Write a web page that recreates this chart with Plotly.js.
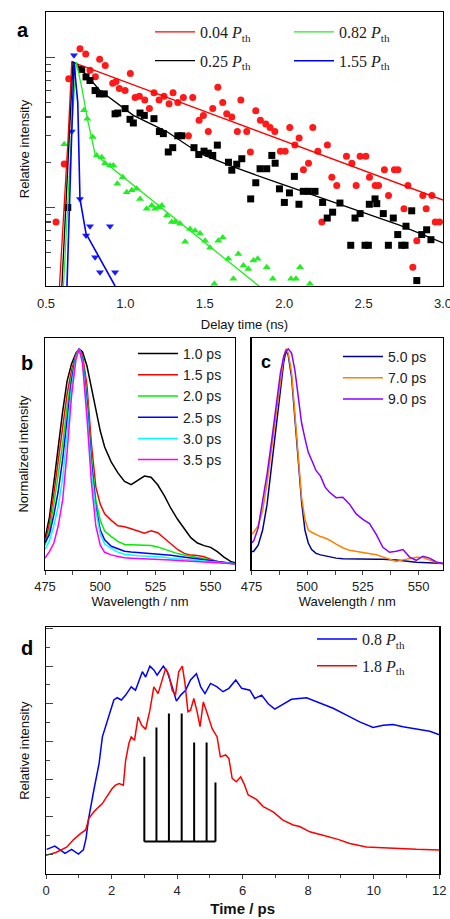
<!DOCTYPE html>
<html><head><meta charset="utf-8">
<script src="https://cdn.plot.ly/plotly-3.0.1.min.js"></script>
<style>html,body{margin:0;padding:0;background:#fff}#g{width:450px;height:919px}</style>
</head><body><div id="g"></div>
<script>
// ---------- Panel a : decay (log) ----------
const aRedX=[0.563,0.615,0.643,0.714,0.750,0.777,0.811,0.838,0.873,0.920,0.941,0.962,0.998,1.031,1.061,1.088,1.122,1.151,1.180,1.212,1.243,1.275,1.300,1.330,1.365,1.397,1.424,1.464,1.491,1.522,1.550,1.582,1.613,1.638,1.670,1.705,1.727,1.764,1.787,1.821,1.850,1.884,1.911,1.941,1.976,2.006,2.035,2.067,2.094,2.121,2.153,2.180,2.212,2.237,2.272,2.300,2.331,2.392,2.426,2.453,2.478,2.514,2.537,2.573,2.594,2.631,2.657,2.694,2.716,2.754,2.779,2.810,2.835,2.873,2.894,2.930,2.951,2.978];
const aRedY=[0.080,0.195,0.72,1.14,1.05,0.82,0.74,0.97,0.88,0.67,0.69,0.62,0.60,0.78,0.54,0.55,0.52,0.455,0.58,0.52,0.55,0.49,0.58,0.50,0.54,0.30,0.54,0.38,0.41,0.32,0.455,0.63,0.50,0.42,0.40,0.32,0.52,0.32,0.234,0.44,0.38,0.36,0.34,0.32,0.237,0.237,0.34,0.26,0.29,0.178,0.197,0.34,0.237,0.080,0.26,0.159,0.140,0.219,0.197,0.140,0.219,0.219,0.159,0.140,0.140,0.178,0.120,0.178,0.178,0.098,0.140,0.040,0.060,0.120,0.098,0.120,0.080,0.080];
const aBlkX=[0.637,0.725,0.752,0.777,0.809,0.836,0.867,0.935,0.952,0.998,1.029,1.050,1.092,1.119,1.180,1.214,1.239,1.270,1.298,1.330,1.355,1.432,1.462,1.495,1.522,1.550,1.579,1.649,1.670,1.701,1.733,1.789,1.821,1.848,1.890,1.922,1.943,1.970,2.001,2.033,2.064,2.093,2.120,2.152,2.194,2.242,2.271,2.305,2.351,2.419,2.446,2.478,2.509,2.530,2.536,2.572,2.583,2.624,2.656,2.687,2.715,2.740,2.761,2.767,2.803,2.835,2.866,2.897,2.924];
const aBlkY=[0.10,0.83,0.74,0.70,0.60,0.57,0.57,0.42,0.425,0.455,0.386,0.365,0.425,0.41,0.39,0.32,0.31,0.234,0.25,0.30,0.30,0.25,0.225,0.237,0.23,0.222,0.26,0.20,0.177,0.194,0.211,0.114,0.146,0.181,0.181,0.222,0.197,0.133,0.108,0.125,0.161,0.105,0.128,0.128,0.128,0.108,0.085,0.093,0.107,0.056,0.085,0.091,0.056,0.056,0.105,0.114,0.106,0.091,0.056,0.085,0.066,0.056,0.056,0.075,0.095,0.0326,0.066,0.071,0.061];
const aGrnX=[0.615,0.739,0.760,0.794,0.819,0.851,0.872,0.903,0.924,0.949,0.983,1.008,1.040,1.071,1.092,1.134,1.166,1.187,1.208,1.229,1.261,1.292,1.313,1.344,1.376,1.407,1.439,1.470,1.502,1.533,1.560,1.585,1.613,1.648,1.680,1.711,1.743,1.774,1.806,1.833,1.890,1.928,2.043,2.074,2.100,2.162];
const aGrnY=[0.263,0.443,0.39,0.294,0.222,0.216,0.197,0.19,0.19,0.144,0.159,0.126,0.13,0.133,0.114,0.098,0.103,0.098,0.10,0.103,0.0885,0.080,0.080,0.078,0.059,0.072,0.070,0.067,0.060,0.054,0.031,0.060,0.063,0.0455,0.0335,0.049,0.041,0.039,0.0443,0.0455,0.040,0.0335,0.0335,0.0335,0.040,0.031];
const aBluX=[0.662,0.676,0.714,0.752,0.777,0.809,0.840,0.903,0.935];
const aBluY=[0.32,1.03,0.114,0.065,0.075,0.0467,0.037,0.075,0.037];
const fitRedX=[0.585,0.64,0.662,3.0], fitRedY=[0.03,0.3,0.93,0.112];
const fitBlkX=[0.60,0.65,0.67,0.693,0.84,1.05,1.26,1.47,1.68,1.89,2.10,2.31,2.52,2.73,3.0];
const fitBlkY=[0.03,0.3,0.93,0.90,0.60,0.41,0.32,0.228,0.186,0.155,0.13,0.108,0.091,0.076,0.058];
const fitGrnX=[0.61,0.66,0.69,0.725,0.76,0.81,1.858], fitGrnY=[0.03,0.3,0.93,0.63,0.39,0.225,0.029];
const fitBluX=[0.632,0.66,0.676,0.70,0.708,0.714,0.752,0.935], fitBluY=[0.03,0.3,0.93,0.5,0.24,0.114,0.067,0.03];
const aLabels=['0.04 <i>P</i><sub>th</sub>','0.25 <i>P</i><sub>th</sub>','0.82 <i>P</i><sub>th</sub>','1.55 <i>P</i><sub>th</sub>'];

// ---------- Panel b : spectra ----------
const wlB=[475,477,479,481,483,485,487,489,490.5,492,494,496,498,500,502,505,508,511,514,517,520,523,526,529,532,535,538,541,544,547,550,553,556,559,561];
const b10=[0.12,0.22,0.38,0.55,0.71,0.85,0.93,0.98,1.0,0.985,0.92,0.82,0.715,0.62,0.545,0.475,0.425,0.385,0.37,0.39,0.41,0.405,0.37,0.32,0.26,0.21,0.17,0.125,0.10,0.088,0.08,0.06,0.035,0.015,0.008];
const b15=[0.10,0.19,0.33,0.48,0.64,0.79,0.90,0.975,1.0,0.97,0.83,0.56,0.36,0.28,0.235,0.205,0.18,0.175,0.166,0.154,0.145,0.157,0.148,0.122,0.094,0.07,0.052,0.044,0.042,0.036,0.025,0.013,0.008,0.005,0.004];
const b20=[0.09,0.16,0.28,0.41,0.56,0.73,0.87,0.97,1.0,0.96,0.78,0.50,0.30,0.205,0.155,0.13,0.108,0.093,0.092,0.091,0.09,0.089,0.082,0.072,0.06,0.051,0.044,0.039,0.034,0.028,0.021,0.014,0.009,0.005,0.004];
const b25=[0.10,0.14,0.23,0.34,0.49,0.67,0.85,0.965,1.0,0.95,0.75,0.47,0.27,0.16,0.115,0.085,0.072,0.062,0.058,0.056,0.054,0.052,0.05,0.047,0.043,0.039,0.035,0.03,0.025,0.02,0.016,0.012,0.008,0.005,0.004];
const b30=[0.07,0.11,0.18,0.27,0.40,0.60,0.82,0.96,1.0,0.94,0.72,0.44,0.25,0.14,0.095,0.075,0.058,0.048,0.043,0.041,0.04,0.039,0.037,0.034,0.03,0.027,0.024,0.021,0.018,0.015,0.012,0.01,0.007,0.005,0.004];
const b35=[0.03,0.06,0.10,0.18,0.30,0.52,0.78,0.95,1.0,0.93,0.68,0.38,0.18,0.09,0.057,0.045,0.038,0.032,0.03,0.029,0.028,0.027,0.025,0.023,0.021,0.019,0.017,0.015,0.013,0.011,0.009,0.007,0.006,0.005,0.004];
const bLabels=['1.0 ps','1.5 ps','2.0 ps','2.5 ps','3.0 ps','3.5 ps'];

// ---------- Panel c : spectra ----------
const wlC=[475,476,478,480,482,484,486,488,489.5,490.5,491.5,493,494.5,496,497.5,499,500.5,502,504,506,508,510,513,516,519,522,525,528,531,534,537,540,543,546,549,552,555,558,561];
const c50=[0.06,0.062,0.09,0.16,0.28,0.46,0.65,0.83,0.94,0.99,0.97,0.87,0.69,0.48,0.29,0.16,0.10,0.07,0.052,0.045,0.04,0.036,0.03,0.027,0.026,0.026,0.026,0.025,0.025,0.025,0.024,0.021,0.018,0.014,0.011,0.01,0.009,0.007,0.005];
const c70=[0.14,0.15,0.18,0.25,0.38,0.54,0.71,0.87,0.965,1.0,0.98,0.89,0.71,0.49,0.31,0.21,0.16,0.15,0.138,0.13,0.123,0.114,0.095,0.078,0.066,0.061,0.057,0.052,0.046,0.036,0.024,0.015,0.022,0.029,0.034,0.033,0.02,0.01,0.005];
const c90=[0.10,0.11,0.17,0.29,0.42,0.57,0.74,0.89,0.965,0.99,1.0,0.98,0.90,0.78,0.656,0.585,0.52,0.485,0.435,0.41,0.36,0.335,0.31,0.312,0.28,0.235,0.21,0.19,0.14,0.08,0.057,0.062,0.07,0.035,0.02,0.039,0.03,0.012,0.005];
const cLabels=['5.0 ps','7.0 ps','9.0 ps'];

// ---------- Panel d : time traces ----------
const dBluT=[0.02,0.27,0.58,0.78,0.99,1.14,1.22,1.30,1.46,1.62,1.72,1.87,2.07,2.17,2.30,2.43,2.60,2.73,2.94,3.04,3.17,3.29,3.39,3.58,3.70,3.85,3.98,4.11,4.26,4.41,4.59,4.72,4.85,5.02,5.22,5.40,5.58,5.79,5.97,6.22,6.37,6.58,6.78,6.98,7.24,7.49,7.95,8.35,8.76,9.17,9.57,9.98,10.29,10.59,10.89,11.30,11.71,11.96,12.0];
const dBluV=[0.135,0.22,0.03,0.135,0.01,0.12,0.42,0.95,1.71,2.42,3.12,3.56,4.10,4.16,4.10,4.23,4.45,4.36,4.85,4.71,5.0,4.9,4.76,5.0,4.85,4.45,4.07,4.23,4.36,4.63,4.80,4.45,4.27,4.54,4.45,4.32,4.41,4.63,4.41,4.36,4.14,4.23,4.0,3.86,4.0,4.12,4.16,4.03,3.88,3.70,3.52,3.37,3.43,3.45,3.39,3.33,3.27,3.19,3.18];
const dRedT=[0,0.3,0.63,0.85,1.06,1.21,1.31,1.46,1.62,1.72,1.82,1.92,2.02,2.12,2.23,2.36,2.43,2.53,2.60,2.70,2.81,2.92,3.04,3.17,3.29,3.42,3.55,3.65,3.75,3.85,3.95,4.05,4.16,4.24,4.33,4.41,4.51,4.61,4.70,4.80,4.92,5.07,5.22,5.32,5.48,5.58,5.68,5.81,5.94,6.04,6.17,6.42,6.63,6.93,7.23,7.54,7.74,8.05,8.45,8.91,9.27,9.78,10.28,10.79,11.30,12.0];
const dRedV=[-0.02,0.05,0.19,0.40,0.56,0.65,0.96,1.13,1.27,1.35,1.49,1.62,1.75,1.84,1.88,1.84,2.5,2.95,3.12,3.03,3.65,3.43,3.32,3.83,4.45,4.27,4.63,4.94,4.76,4.36,4.23,4.85,5.0,4.54,3.79,3.83,4.14,3.79,3.39,4.05,3.74,3.34,3.12,2.59,2.64,2.55,2.02,1.93,2.06,1.88,1.58,1.46,1.27,1.13,0.91,0.78,0.74,0.60,0.51,0.40,0.29,0.20,0.18,0.15,0.135,0.12];
const combT=[3.0,3.37,3.75,4.14,4.52,4.90,5.17];
const combTop=[2.59,3.37,3.74,3.74,2.97,2.97,1.91];
const combBase=0.34;
const dLabels=['0.8 <i>P</i><sub>th</sub>','1.8 <i>P</i><sub>th</sub>'];

// ---------- build ----------
const SANS='Liberation Sans, Arial, sans-serif';
const SERIF='Liberation Serif, Times New Roman, serif';
const traces=[];
function mk(x,y,sym,col){return {x:x,y:y,type:'scatter',mode:'markers',xaxis:'x',yaxis:'y',showlegend:false,hoverinfo:'skip',marker:{symbol:sym,color:col,size:7}};}
traces.push(mk(aRedX,aRedY,'circle','#ff1a1a'));
traces.push(mk(aBlkX,aBlkY,'square','#000'));
traces.push(mk(aGrnX,aGrnY,'triangle-up','#22ee22'));
traces.push(mk(aBluX,aBluY,'triangle-down','#1a1aff'));
function ln(x,y,col,name,leg,xa,ya,w,grp){return {x:x,y:y,type:'scatter',mode:'lines',xaxis:xa,yaxis:ya,name:name,legend:leg,legendgroup:grp,line:{color:col,width:w},hoverinfo:'skip'};}
traces.push(ln(fitRedX,fitRedY,'#ff0000',aLabels[0],'legend','x','y',1.3,'a1'));
traces.push(ln(fitBlkX,fitBlkY,'#000000',aLabels[1],'legend','x','y',1.3,'a2'));
traces.push(ln(fitGrnX,fitGrnY,'#22ee22',aLabels[2],'legend2','x','y',1.3,'a3'));
traces.push(ln(fitBluX,fitBluY,'#0000ff',aLabels[3],'legend2','x','y',1.6,'a4'));
const bSeries=[b10,b15,b20,b25,b30,b35], bCols=['#000000','#ff0000','#00ee00','#0000ff','#00ffff','#ff00ff'];
bSeries.forEach((s,i)=>traces.push(ln(wlB,s,bCols[i],bLabels[i],'legend3','x2','y2',1.5,'b'+i)));
const cSeries=[c50,c70,c90], cCols=['#000090','#ff8000','#8a00ff'];
cSeries.forEach((s,i)=>traces.push(ln(wlC,s,cCols[i],cLabels[i],'legend4','x3','y3',1.5,'c'+i)));
traces.push(ln(dBluT,dBluV,'#0000ff',dLabels[0],'legend5','x4','y4',1.5,'d1'));
traces.push(ln(dRedT,dRedV,'#ff0000',dLabels[1],'legend5','x4','y4',1.5,'d2'));
// comb
const cx=[],cy=[];
combT.forEach((t,i)=>{cx.push(t,t,null);cy.push(combBase,combTop[i],null);});
cx.push(combT[0],combT[combT.length-1]);cy.push(combBase,combBase);
traces.push({x:cx,y:cy,type:'scatter',mode:'lines',xaxis:'x4',yaxis:'y4',showlegend:false,hoverinfo:'skip',line:{color:'#000',width:2}});

const frame={showline:true,mirror:true,linecolor:'#000',linewidth:1.2,zeroline:false,showgrid:false};
const tickF={family:SANS,size:13,color:'#222'};
const titleF={family:SANS,size:13,color:'#111'};
function P(px){return px/450;} function Q(py){return 1-py/919;}
const legBase={xanchor:'left',yanchor:'top',bgcolor:'rgba(0,0,0,0)',itemwidth:40,traceorder:'grouped'};
const layout={
 width:450,height:919,margin:{l:0,r:0,t:0,b:0},paper_bgcolor:'#fff',plot_bgcolor:'#fff',
 xaxis:Object.assign({},frame,{domain:[P(46),P(443)],anchor:'y',range:[0.5,3.0],dtick:0.5,tick0:0.5,tickformat:'.1f',ticks:'',ticklabelstandoff:5,ticklabeloverflow:'allow',tickfont:tickF,title:{text:'Delay time (ns)',font:titleF,standoff:10}}),
 yaxis:Object.assign({},frame,{domain:[Q(286),Q(12)],anchor:'x',type:'log',range:[Math.log10(0.03),Math.log10(2)],showticklabels:false,ticks:'inside',tickvals:[0.1,1],ticklen:9,tickwidth:1.2,
   minor:{ticks:'inside',ticklen:5,tickwidth:1.2,tickvals:[0.04,0.05,0.06,0.07,0.08,0.09,0.2,0.3,0.4,0.5,0.6,0.7,0.8,0.9]},title:{text:'Relative intensity',font:titleF,standoff:12}}),
 xaxis2:Object.assign({},frame,{domain:[P(45),P(235)],anchor:'y2',range:[475,561],dtick:25,ticks:'outside',ticklen:4,minor:{dtick:12.5,ticks:'outside',ticklen:4},tickfont:tickF,title:{text:'Wavelength / nm',font:titleF,standoff:2}}),
 yaxis2:Object.assign({},frame,{domain:[Q(570),Q(338)],anchor:'x2',range:[-0.025,1.05],showticklabels:false,ticks:'',title:{text:'Normalized intensity',font:titleF,standoff:12}}),
 xaxis3:Object.assign({},frame,{domain:[P(251.5),P(443)],anchor:'y3',range:[475,561],dtick:25,ticks:'outside',ticklen:4,minor:{dtick:12.5,ticks:'outside',ticklen:4},tickfont:tickF,title:{text:'Wavelength / nm',font:titleF,standoff:2}}),
 yaxis3:Object.assign({},frame,{domain:[Q(570),Q(338)],anchor:'x3',range:[-0.025,1.05],showticklabels:false,ticks:''}),
 xaxis4:Object.assign({},frame,{domain:[P(46),P(439.3)],anchor:'y4',range:[0,12],dtick:2,ticks:'outside',ticklen:4,minor:{dtick:1,ticks:'outside',ticklen:3},ticklabeloverflow:'allow',tickfont:tickF,title:{text:'<b>Time / ps</b>',font:{family:SANS,size:15,color:'#111'},standoff:6}}),
 yaxis4:Object.assign({},frame,{domain:[Q(874),Q(627.3)],anchor:'x4',range:[-0.52,6.03],dtick:1,tick0:0,ticks:'inside',ticklen:7,minor:{dtick:0.5,ticks:'inside',ticklen:4},showticklabels:false,title:{text:'Relative intensity',font:titleF,standoff:12}}),
 legend:Object.assign({},legBase,{x:P(150),y:Q(15),font:{family:SERIF,size:16,color:'#222'},tracegroupgap:5}),
 legend2:Object.assign({},legBase,{x:P(289),y:Q(15),font:{family:SERIF,size:16,color:'#222'},tracegroupgap:5}),
 legend3:Object.assign({},legBase,{x:P(133),y:Q(338),font:{family:SANS,size:14,color:'#222'},tracegroupgap:0}),
 legend4:Object.assign({},legBase,{x:P(338),y:Q(341),font:{family:SANS,size:14,color:'#222'},tracegroupgap:0}),
 legend5:Object.assign({},legBase,{x:P(312),y:Q(622),font:{family:SERIF,size:16,color:'#222'},tracegroupgap:3}),
 annotations:[
  {text:'<b>a</b>',x:P(23),y:Q(30),xref:'paper',yref:'paper',xanchor:'center',yanchor:'middle',showarrow:false,font:{family:SANS,size:20,color:'#000'}},
  {text:'<b>b</b>',x:P(27),y:Q(363),xref:'paper',yref:'paper',xanchor:'center',yanchor:'middle',showarrow:false,font:{family:SANS,size:20,color:'#000'}},
  {text:'<b>c</b>',x:P(266),y:Q(362),xref:'paper',yref:'paper',xanchor:'center',yanchor:'middle',showarrow:false,font:{family:SANS,size:18,color:'#000'}},
  {text:'<b>d</b>',x:P(27),y:Q(648),xref:'paper',yref:'paper',xanchor:'center',yanchor:'middle',showarrow:false,font:{family:SANS,size:20,color:'#000'}}
 ]
};
Plotly.newPlot('g',traces,layout,{displayModeBar:false,staticPlot:true});
</script></body></html>
